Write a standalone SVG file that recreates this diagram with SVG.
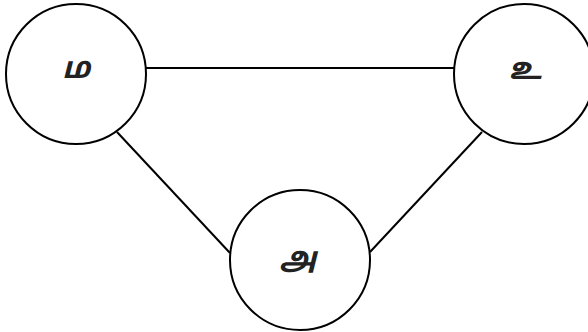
<svg xmlns="http://www.w3.org/2000/svg" width="588" height="332" viewBox="0 0 588 332">
<style>
.node circle{fill:#fff;stroke:#000;stroke-width:2}
.node text{font-family:"Noto Sans Tamil","Noto Sans","Liberation Sans",sans-serif;font-size:30px;font-weight:bold;font-style:italic;text-anchor:middle;dominant-baseline:central;fill:#222}
.edges line{stroke:#000;stroke-width:2}
</style>
<rect width="588" height="332" fill="#fff"/>
<g class="edges">
<line x1="146" y1="68" x2="454" y2="68"/>
<line x1="117" y1="132" x2="230" y2="253"/>
<line x1="482" y1="132" x2="370" y2="252"/>
</g>
<g id="node-ma" class="node"><circle cx="76" cy="74" r="70"/><text x="76" y="70">ம</text></g>
<g id="node-u" class="node"><circle cx="524" cy="74" r="70"/><text x="525" y="71">உ</text></g>
<g id="node-a" class="node"><circle cx="300" cy="260" r="70"/><text x="298" y="260">அ</text></g>
</svg>
